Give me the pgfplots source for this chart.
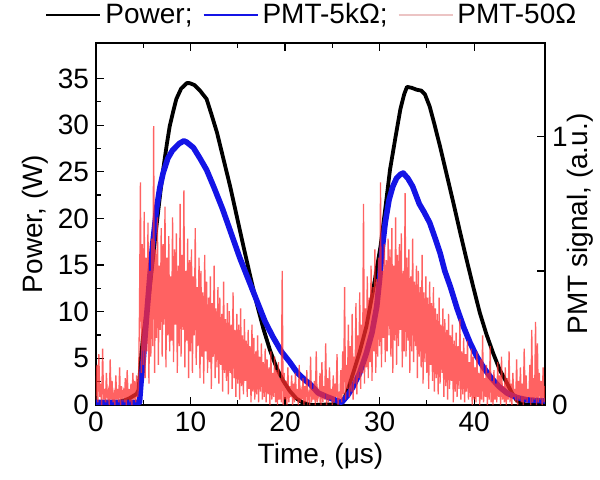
\documentclass[border=0pt]{standalone}
\usepackage{fontspec}
\setmainfont{Liberation Sans}
\usepackage{pgfplots}
\usepackage{pgfplotstable}
\pgfplotsset{compat=1.18}
\definecolor{pmtred}{RGB}{255,45,45}
\definecolor{pmtlegend}{RGB}{236,196,196}
\definecolor{pmtblue}{RGB}{20,20,230}

\pgfplotstableread[row sep=\\]{
v\\
0.02\\0.15\\0.01\\0.19\\0.03\\0.08\\0.00\\0.21\\0.02\\0.06\\
0.01\\0.12\\0.03\\0.05\\0.00\\0.17\\0.02\\0.09\\0.01\\0.04\\
0.00\\0.11\\0.02\\0.06\\0.01\\0.14\\0.00\\0.07\\0.03\\0.05\\
0.01\\0.10\\0.00\\0.13\\0.02\\0.06\\0.01\\0.08\\0.00\\0.12\\
0.02\\0.09\\0.01\\0.11\\0.03\\0.07\\0.35\\0.83\\0.12\\0.60\\
0.15\\0.72\\0.10\\0.55\\0.20\\0.68\\0.08\\0.50\\0.18\\0.62\\
0.22\\1.04\\0.12\\0.58\\0.25\\0.70\\0.15\\0.52\\0.28\\0.66\\
0.18\\0.60\\0.30\\0.74\\0.14\\0.55\\0.26\\0.63\\0.20\\0.48\\
0.24\\0.70\\0.16\\0.58\\0.30\\0.64\\0.12\\0.52\\0.22\\0.75\\
0.18\\0.56\\0.28\\0.80\\0.14\\0.50\\0.24\\0.62\\0.10\\0.54\\
0.20\\0.58\\0.12\\0.48\\0.26\\0.66\\0.15\\0.44\\0.22\\0.55\\
0.10\\0.50\\0.18\\0.42\\0.08\\0.56\\0.20\\0.46\\0.12\\0.40\\
0.16\\0.48\\0.06\\0.38\\0.18\\0.52\\0.10\\0.36\\0.14\\0.44\\
0.08\\0.40\\0.15\\0.34\\0.05\\0.46\\0.12\\0.32\\0.09\\0.38\\
0.04\\0.35\\0.12\\0.30\\0.06\\0.42\\0.10\\0.28\\0.03\\0.34\\
0.08\\0.30\\0.02\\0.36\\0.07\\0.26\\0.04\\0.32\\0.09\\0.24\\
0.03\\0.28\\0.06\\0.22\\0.01\\0.30\\0.05\\0.25\\0.02\\0.20\\
0.04\\0.26\\0.01\\0.18\\0.05\\0.23\\0.02\\0.16\\0.03\\0.21\\
0.01\\0.17\\0.04\\0.14\\0.00\\0.20\\0.02\\0.12\\0.03\\0.18\\
0.01\\0.13\\0.00\\0.16\\0.02\\0.10\\0.01\\0.50\\0.00\\0.12\\
0.02\\0.09\\0.00\\0.14\\0.01\\0.07\\0.03\\0.11\\0.00\\0.08\\
0.01\\0.12\\0.02\\0.06\\0.00\\0.15\\0.01\\0.05\\0.02\\0.10\\
0.00\\0.07\\0.01\\0.13\\0.02\\0.04\\0.00\\0.18\\0.01\\0.06\\
0.02\\0.09\\0.00\\0.20\\0.01\\0.05\\0.03\\0.12\\0.00\\0.16\\
0.01\\0.07\\0.02\\0.23\\0.00\\0.10\\0.01\\0.14\\0.02\\0.06\\
0.00\\0.11\\0.01\\0.08\\0.03\\0.19\\0.00\\0.05\\0.02\\0.13\\
0.01\\0.20\\0.04\\0.44\\0.02\\0.15\\0.06\\0.30\\0.03\\0.22\\
0.05\\0.34\\0.02\\0.18\\0.08\\0.38\\0.04\\0.26\\0.10\\0.42\\
0.06\\0.30\\0.12\\0.75\\0.08\\0.36\\0.14\\0.48\\0.10\\0.40\\
0.16\\0.52\\0.09\\0.44\\0.20\\0.58\\0.12\\0.47\\0.18\\0.55\\
0.22\\0.83\\0.14\\0.50\\0.25\\0.60\\0.16\\0.54\\0.20\\0.62\\
0.26\\0.58\\0.18\\0.66\\0.12\\0.52\\0.24\\0.70\\0.15\\0.56\\
0.22\\0.60\\0.28\\0.64\\0.14\\0.50\\0.20\\0.79\\0.18\\0.55\\
0.24\\0.58\\0.12\\0.48\\0.20\\0.62\\0.16\\0.46\\0.22\\0.52\\
0.10\\0.50\\0.18\\0.44\\0.14\\0.56\\0.08\\0.42\\0.16\\0.48\\
0.12\\0.40\\0.06\\0.46\\0.15\\0.38\\0.09\\0.44\\0.05\\0.36\\
0.10\\0.34\\0.04\\0.40\\0.08\\0.30\\0.12\\0.36\\0.03\\0.32\\
0.07\\0.28\\0.02\\0.34\\0.06\\0.26\\0.09\\0.30\\0.01\\0.24\\
0.05\\0.27\\0.03\\0.22\\0.06\\0.32\\0.02\\0.20\\0.04\\0.25\\
0.01\\0.19\\0.05\\0.24\\0.02\\0.16\\0.03\\0.21\\0.00\\0.18\\
0.02\\0.14\\0.01\\0.20\\0.03\\0.12\\0.00\\0.17\\0.02\\0.26\\
0.01\\0.10\\0.03\\0.15\\0.00\\0.12\\0.02\\0.22\\0.01\\0.09\\
0.00\\0.13\\0.02\\0.08\\0.01\\0.16\\0.03\\0.11\\0.00\\0.18\\
0.02\\0.07\\0.01\\0.14\\0.00\\0.10\\0.02\\0.20\\0.01\\0.08\\
0.00\\0.12\\0.03\\0.06\\0.01\\0.17\\0.00\\0.09\\0.02\\0.14\\
0.01\\0.08\\0.00\\0.21\\0.02\\0.11\\0.01\\0.06\\0.03\\0.15\\
0.00\\0.28\\0.01\\0.10\\0.02\\0.31\\0.00\\0.23\\0.01\\0.12\\
0.02\\0.09\\0.00\\0.14\\0.01\\0.07\\
}\pmtfast

\begin{document}
\begin{tikzpicture}
\pgfplotsset{
  every axis/.append style={font=\fontsize{14}{16}\selectfont},
  /pgf/number format/assume math mode=true,
  every tick/.style={black, line width=0.6pt},
  major tick length=4pt, minor tick length=2.5pt,
}
\begin{axis}[name=ax1, scale only axis, width=224.5pt, height=181pt,
  xmin=0, xmax=47.5, ymin=0, ymax=38.8,
  xtick={0,10,...,40}, minor x tick num=1,
  ytick={0,5,...,35}, minor y tick num=1,
  tick align=inside, xtick pos=both, ytick pos=left,
  axis line style={line width=0.6pt},
  xlabel={Time, (μs)}, ylabel={Power, (W)},
  xlabel style={yshift=1pt}, ylabel style={yshift=-2pt},
]
\addplot[black, line width=1.9pt, line join=round] coordinates {
(0,0) (1,0) (1.5,0.1) (2,0.2) (2.5,0.35) (3,0.5) (3.5,0.7) (4,1.0) (4.3,1.2) (4.5,1.6)
(4.65,3.5) (4.8,5.5) (5.0,7.5) (5.5,10.9) (5.7,12.7) (6.0,15.5) (6.4,19.2) (6.8,22.7)
(7.1,25.2) (7.5,28.0) (7.8,29.9) (8.2,31.6) (8.5,32.8) (9.0,33.9) (9.6,34.5) (9.9,34.5)
(10.4,34.3) (11.0,33.7) (11.7,32.8) (12.2,31.2) (12.8,29.2) (13.5,26.3) (14.2,23.4)
(14.9,20.2) (15.6,17.0) (16.3,13.9) (17.0,10.9) (17.7,8.2) (18.4,5.9) (19.1,4.0)
(19.8,2.6) (20.5,1.5) (21.2,0.7) (21.8,0.3) (22.5,0.05) (23,0) (26,0.1)
(26.6,1.5) (27.2,3.4) (27.9,5.7) (28.6,8.4) (29.3,12.2) (30.1,17.0) (30.6,21.0)
(31.1,25.2) (31.7,28.8) (32.2,31.7) (32.6,33.3) (32.9,34.1) (33.4,34.0) (33.9,33.8)
(34.4,33.7) (34.8,33.3) (35.3,32.0) (35.8,30.1) (36.4,27.7) (37.1,24.7) (37.8,21.7)
(38.5,18.6) (39.2,15.6) (39.9,12.7) (40.6,9.9) (41.3,7.6) (42.0,5.6) (42.7,3.8)
(43.5,2.3) (44.0,1.3) (44.5,0.5) (45.0,0.2) (45.6,0) (47.5,0)
};
\end{axis}
\begin{axis}[scale only axis, width=224.5pt, height=181pt,
  xmin=0, xmax=47.5, ymin=0, ymax=1.35,
  axis x line=none, axis y line*=right,
  ytick={0,0.5,1}, yticklabels={0,,1},
  tick align=inside,
  axis line style={line width=0.6pt},
  ylabel={PMT signal, (a.u.)},
  ylabel style={yshift=7pt},
  legend columns=3,
  legend style={draw=none, fill=none, at={(0.483,1.077)}, anchor=center,
    font=\fontsize{14}{16}\selectfont,
    /tikz/every even column/.append style={column sep=3pt}},
  legend image code/.code={\draw[#1] (0pt,0pt) -- (27pt,0pt);},
]
\addlegendimage{black, line width=1pt}
\addlegendentry{Power;}
\addlegendimage{pmtblue, line width=1pt}
\addlegendentry{PMT-5kΩ;}
\addlegendimage{pmtlegend, line width=0.8pt}
\addlegendentry{PMT-50Ω}
\addplot[pmtblue, line width=2.8pt, line join=round, forget plot] coordinates {
(0,0.01) (4.6,0.01) (4.75,0.08) (5.0,0.17) (5.35,0.33) (5.7,0.48) (6.0,0.60) (6.4,0.73)
(6.75,0.81) (7.1,0.865) (7.6,0.92) (8.1,0.95) (8.8,0.975) (9.3,0.985) (9.6,0.98)
(10.3,0.96) (11.0,0.92) (11.7,0.877) (12.5,0.81) (13.4,0.73) (14.3,0.64) (15.2,0.55)
(16.1,0.47) (17.0,0.39) (17.9,0.31) (18.7,0.255) (19.6,0.20) (20.5,0.16) (21.3,0.12)
(22.2,0.09) (22.6,0.08) (23.5,0.045) (24.4,0.031) (25.2,0.02) (25.8,0.012) (26.0,0.01)
(26.6,0.035) (27.2,0.068) (27.9,0.12) (28.6,0.193) (29.2,0.27) (29.7,0.367) (30.0,0.47)
(30.3,0.59) (30.6,0.68) (31.0,0.765) (31.4,0.815) (31.8,0.846) (32.2,0.86) (32.5,0.865)
(33.0,0.845) (33.5,0.815) (34.2,0.75) (34.7,0.72) (35.3,0.68) (35.8,0.63) (36.4,0.567)
(36.9,0.50) (37.5,0.44) (38.2,0.36) (38.9,0.29) (39.6,0.23) (40.3,0.18) (41.0,0.14)
(41.7,0.106) (42.6,0.07) (43.5,0.044) (44.5,0.028) (45.6,0.019) (47.5,0.015)
};
\addplot[pmtred, opacity=0.75, line width=0.65pt, forget plot]
  table[x expr=\coordindex*0.1, y=v] {\pmtfast};
\end{axis}
\pgfresetboundingbox
\path (ax1.south west) ++(-48pt,-37pt) rectangle ++(300pt,239.5pt);
\end{tikzpicture}
\end{document}
